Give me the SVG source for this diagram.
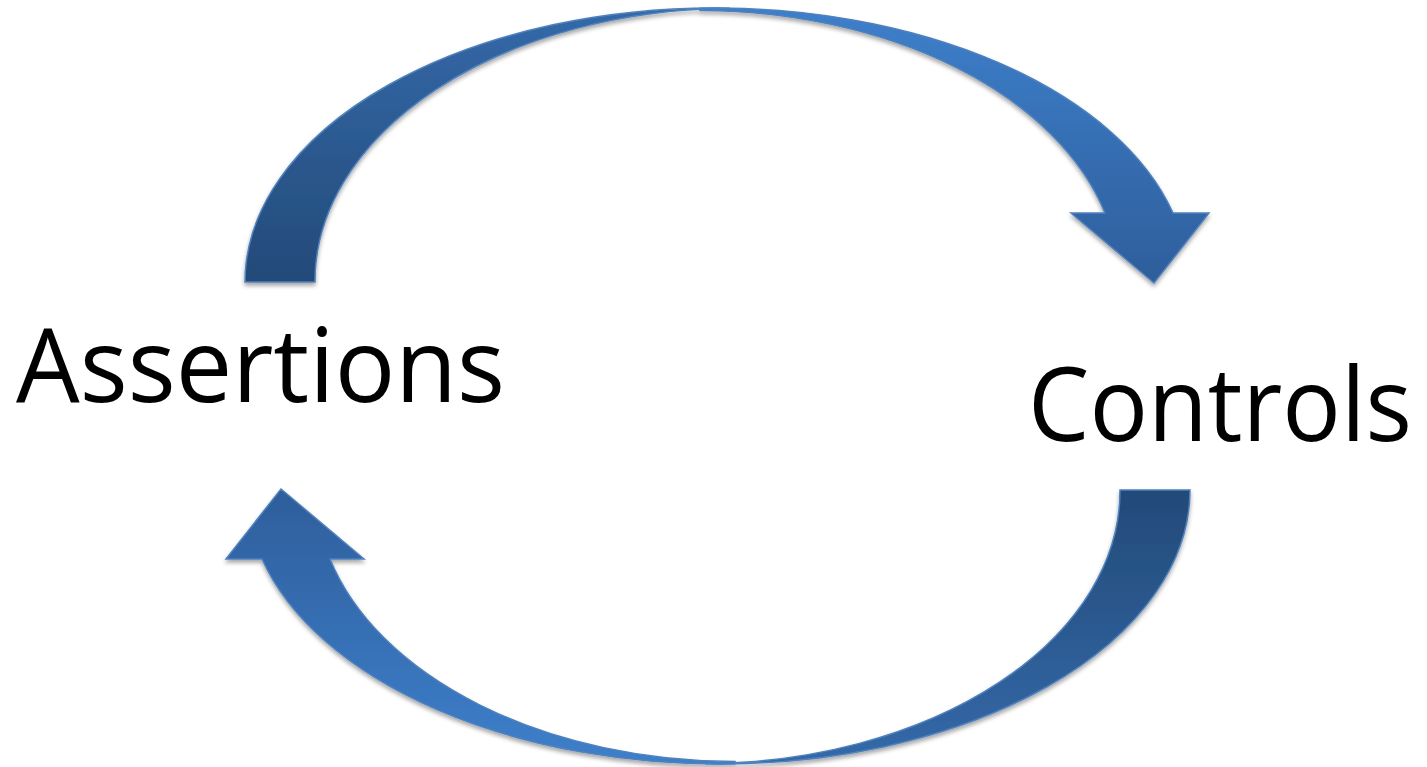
<svg xmlns="http://www.w3.org/2000/svg" width="1427" height="767" viewBox="0 0 1427 767">
  <defs>
    <linearGradient id="gFront" gradientUnits="userSpaceOnUse" x1="0" y1="8" x2="0" y2="283">
      <stop offset="0" stop-color="#3d7fcb"/>
      <stop offset="1" stop-color="#2e5e9b"/>
    </linearGradient>
    <linearGradient id="gBack" gradientUnits="userSpaceOnUse" x1="0" y1="8" x2="0" y2="283">
      <stop offset="0" stop-color="#3469a9"/>
      <stop offset="1" stop-color="#234a78"/>
    </linearGradient>
    <filter id="shadow" x="-10%" y="-10%" width="120%" height="130%">
      <feDropShadow dx="0" dy="3" stdDeviation="2.2" flood-color="#000" flood-opacity="0.35"/>
    </filter>
    <g id="arrowShape">
      <path class="back" d="M245,282 A470,274 0 0 1 730,8.2 A420,273 0 0 0 315,282 Z"/>
      <path class="front" d="M700,8.2 A473,274 0 0 1 1173,213 L1209,213 L1154,283 L1071,213 L1105,213 A420,272 0 0 0 700,10.5 Z"/>
    </g>
  </defs>
  <style>
    .back { fill: url(#gBack); stroke: #4f81bd; stroke-width: 1.5; stroke-linejoin: miter; }
    .front { fill: url(#gFront); stroke: #4f81bd; stroke-width: 1.5; stroke-linejoin: miter; }
    .label { font-family: "Open Sans", "Liberation Sans", sans-serif; font-size: 102px; fill: #000; }
  </style>
  <g id="connectors">
    <g id="arrow-top" filter="url(#shadow)">
      <use href="#arrowShape"/>
    </g>
    <g id="arrow-bottom" filter="url(#shadow)">
      <g transform="rotate(180 717.5 386)">
        <use href="#arrowShape"/>
      </g>
    </g>
  </g>
  <g id="node-assertions">
    <text class="label" x="16" y="402" textLength="489" lengthAdjust="spacingAndGlyphs">Assertions</text>
  </g>
  <g id="node-controls">
    <text class="label" x="1028" y="441" textLength="384" lengthAdjust="spacingAndGlyphs">Controls</text>
  </g>
</svg>
